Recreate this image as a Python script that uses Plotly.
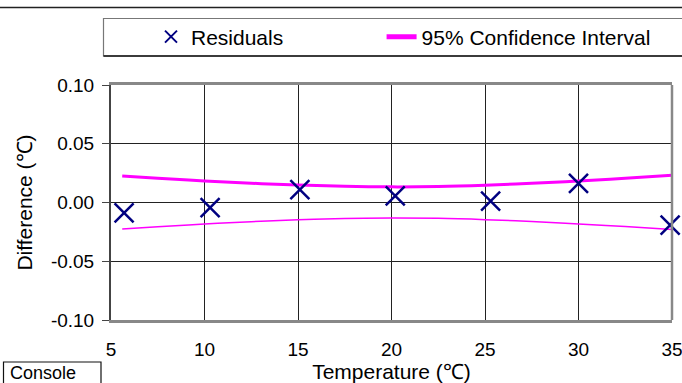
import plotly.graph_objects as go

# ---- data ----
temp_res = [5.7, 10.3, 15.1, 20.2, 25.3, 30.0, 34.9]
residuals = [-0.0089, -0.0043, 0.0110, 0.0057, 0.0011, 0.0162, -0.0193]

temp_ci = [5.6, 7.5, 10, 12.5, 15, 17.5, 20, 22.5, 25, 27.5, 30, 32.5, 35]
ci_upper = [0.0226, 0.0207, 0.0184, 0.0164, 0.0150, 0.0138, 0.0133, 0.0136, 0.0147, 0.0163, 0.0183, 0.0206, 0.0232]
ci_lower = [-0.0226, -0.0206, -0.0183, -0.0163, -0.0147, -0.0136, -0.0132, -0.0135, -0.0146, -0.0162, -0.0182, -0.0205, -0.0229]

x_ticks = [5, 10, 15, 20, 25, 30, 35]
x_ticklabels = ["5", "10", "15", "20", "25", "30", "35"]
y_ticks = [-0.10, -0.05, 0.00, 0.05, 0.10]
y_ticklabels = ["-0.10", "-0.05", "0.00", "0.05", "0.10"]

# ---- layout geometry (pixels) ----
W, H = 682, 383
L, R, T, B = 111, 10, 85, 63
PW, PH = W - L - R, H - T - B

def px(xp):
    return (xp - L) / PW

def py(yp):
    return (H - B - yp) / PH

FONT = "Liberation Sans, Arial, sans-serif"
MAG = "#ff00ff"
NAVY = "#000080"
NBSP = "\u00a0"

fig = go.Figure()
fig.add_trace(go.Scatter(x=temp_ci, y=ci_upper, mode="lines", name="95% Confidence Interval",
                         line=dict(color=MAG, width=3, shape="spline"), legendrank=2))
fig.add_trace(go.Scatter(x=temp_ci, y=ci_lower, mode="lines", showlegend=False,
                         line=dict(color=MAG, width=1.5, shape="spline")))
fig.add_trace(go.Scatter(x=temp_res, y=residuals, mode="markers", name="Residuals" + NBSP * 16,
                         marker=dict(symbol="x-thin", size=19, color=NAVY,
                                     line=dict(color=NAVY, width=2.5)),
                         legendrank=1, cliponaxis=False))

shapes = [
    # top rule (frame of outer chart)
    dict(type="line", xref="paper", yref="paper", x0=px(-5), x1=px(W + 5), y0=py(7.5), y1=py(7.5),
         line=dict(color="#222", width=1.5)),
    # legend box
    dict(type="rect", xref="paper", yref="paper", x0=px(103.5), x1=px(W + 20), y0=py(56), y1=py(18.5),
         line=dict(color="#777", width=1.2), fillcolor="rgba(0,0,0,0)"),
    dict(type="line", xref="paper", yref="paper", x0=px(103.5), x1=px(W + 20), y0=py(56), y1=py(56),
         line=dict(color="#111", width=1.5)),
    # right border of plot area
    dict(type="line", xref="paper", yref="paper", x0=1, x1=1, y0=0, y1=1,
         line=dict(color="#888", width=2.5)),
    # console box
    dict(type="rect", xref="paper", yref="paper", x0=px(3.5), x1=px(101), y0=py(H + 10), y1=py(362),
         line=dict(color="#111", width=1.2), fillcolor="white"),
]

fig.update_layout(
    width=W, height=H,
    margin=dict(l=L, r=R, t=T, b=B, autoexpand=False),
    paper_bgcolor="white", plot_bgcolor="white",
    font=dict(family=FONT, color="black", size=19),
    showlegend=True,
    legend=dict(orientation="h", x=px(151), xanchor="left", y=py(37), yanchor="middle",
                bgcolor="rgba(0,0,0,0)", borderwidth=0, font=dict(size=21),
                itemsizing="constant"),
    shapes=shapes,
    annotations=[dict(text="Console", xref="paper", yref="paper", x=px(8), y=py(373),
                      xanchor="left", yanchor="middle", showarrow=False,
                      font=dict(size=18, family=FONT))],
    xaxis=dict(range=[5, 35], tickvals=x_ticks, ticktext=x_ticklabels,
               showgrid=True, gridcolor="#222", gridwidth=1,
               showline=True, linecolor="#888", linewidth=2.5, mirror=True,
               zeroline=False, ticks="", ticklabelstandoff=10, automargin=False,
               ticklabeloverflow="allow",
               tickfont=dict(size=19),
               title=dict(text="Temperature (℃)", font=dict(size=21), standoff=0)),
    yaxis=dict(range=[-0.10, 0.10], tickvals=y_ticks, ticktext=y_ticklabels,
               showgrid=True, gridcolor="#222", gridwidth=1,
               zeroline=True, zerolinecolor="#222", zerolinewidth=1,
               showline=True, linecolor="#444", linewidth=2,
               ticks="outside", ticklen=7, tickcolor="#444", tickwidth=1,
               ticklabelstandoff=4, automargin=False,
               tickfont=dict(size=19),
               title=dict(text="Difference (℃)", font=dict(size=21), standoff=13)),
)

fig.write_html("out.html")
